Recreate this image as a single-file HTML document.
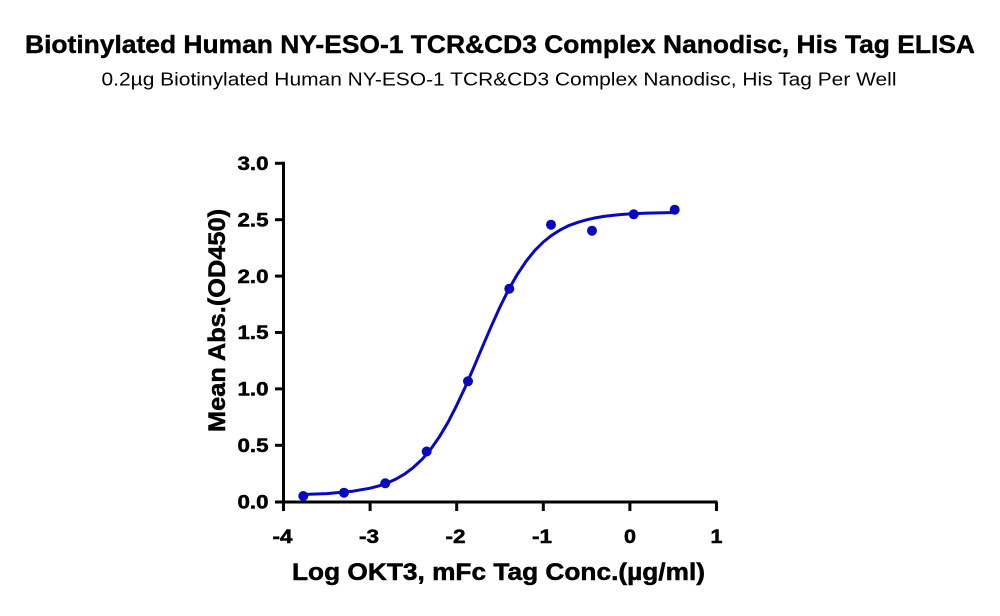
<!DOCTYPE html>
<html><head><meta charset="utf-8"><style>
html,body{margin:0;padding:0;background:#fff;}
svg{display:block;}
text{font-family:"Liberation Sans",sans-serif;fill:#000;}
</style></head><body>
<svg width="1000" height="616" viewBox="0 0 1000 616" xmlns="http://www.w3.org/2000/svg">
<rect width="1000" height="616" fill="#fff"/>
<text x="500" y="53" text-anchor="middle" font-size="25" font-weight="bold" stroke="#000" stroke-width="0.4" textLength="950" lengthAdjust="spacingAndGlyphs">Biotinylated Human NY-ESO-1 TCR&amp;CD3 Complex Nanodisc, His Tag ELISA</text>
<text x="499" y="85.5" text-anchor="middle" font-size="18.5" textLength="795" lengthAdjust="spacingAndGlyphs">0.2µg Biotinylated Human NY-ESO-1 TCR&amp;CD3 Complex Nanodisc, His Tag Per Well</text>

<g stroke="#000" stroke-width="3" fill="none">
<line x1="283.5" y1="161.8" x2="283.5" y2="503.5"/>
<line x1="282" y1="502" x2="717.5" y2="502"/>
<line x1="275" y1="163.3" x2="283.5" y2="163.3"/>
<line x1="275" y1="219.7" x2="283.5" y2="219.7"/>
<line x1="275" y1="276.1" x2="283.5" y2="276.1"/>
<line x1="275" y1="332.5" x2="283.5" y2="332.5"/>
<line x1="275" y1="388.9" x2="283.5" y2="388.9"/>
<line x1="275" y1="445.3" x2="283.5" y2="445.3"/>
<line x1="275" y1="502" x2="283.5" y2="502"/>
<line x1="283.5" y1="502" x2="283.5" y2="511"/>
<line x1="370.1" y1="502" x2="370.1" y2="511"/>
<line x1="456.7" y1="502" x2="456.7" y2="511"/>
<line x1="543.3" y1="502" x2="543.3" y2="511"/>
<line x1="629.9" y1="502" x2="629.9" y2="511"/>
<line x1="716.5" y1="502" x2="716.5" y2="511"/>
</g>

<g font-size="19" font-weight="bold" text-anchor="end" stroke="#000" stroke-width="0.5">
<text x="268.5" y="170" textLength="31" lengthAdjust="spacingAndGlyphs">3.0</text>
<text x="268.5" y="226.4" textLength="31" lengthAdjust="spacingAndGlyphs">2.5</text>
<text x="268.5" y="282.8" textLength="31" lengthAdjust="spacingAndGlyphs">2.0</text>
<text x="268.5" y="339.2" textLength="31" lengthAdjust="spacingAndGlyphs">1.5</text>
<text x="268.5" y="395.6" textLength="31" lengthAdjust="spacingAndGlyphs">1.0</text>
<text x="268.5" y="452" textLength="31" lengthAdjust="spacingAndGlyphs">0.5</text>
<text x="268.5" y="508.5" textLength="31" lengthAdjust="spacingAndGlyphs">0.0</text>
</g>
<g font-size="19" font-weight="bold" text-anchor="middle" stroke="#000" stroke-width="0.5">
<text x="282.5" y="543" textLength="20" lengthAdjust="spacingAndGlyphs">-4</text>
<text x="369" y="543" textLength="20" lengthAdjust="spacingAndGlyphs">-3</text>
<text x="455.5" y="543" textLength="20" lengthAdjust="spacingAndGlyphs">-2</text>
<text x="542" y="543" textLength="20" lengthAdjust="spacingAndGlyphs">-1</text>
<text x="630" y="543" textLength="12" lengthAdjust="spacingAndGlyphs">0</text>
<text x="716.5" y="543" textLength="12" lengthAdjust="spacingAndGlyphs">1</text>
</g>

<text x="498.5" y="580" text-anchor="middle" font-size="24" font-weight="bold" stroke="#000" stroke-width="0.5" textLength="413" lengthAdjust="spacingAndGlyphs">Log OKT3, mFc Tag Conc.(µg/ml)</text>
<text transform="translate(225,320.5) rotate(-90)" x="0" y="0" text-anchor="middle" font-size="24" font-weight="bold" stroke="#000" stroke-width="0.5" textLength="223" lengthAdjust="spacingAndGlyphs">Mean Abs.(OD450)</text>

<polyline fill="none" stroke="#0808c0" stroke-width="3" stroke-linejoin="round" stroke-linecap="round"
points="301.7,494.5 326.8,493.6 352.8,491.2 370.1,488.2 378.8,485.9 387.4,482.9 396.1,479.0 404.8,473.9 413.4,467.4 422.1,459.3 430.8,449.1 439.4,436.8 448.1,422.2 456.7,405.3 465.4,386.7 474.0,366.8 482.7,346.2 491.3,326.2 500.0,306.9 508.6,289.6 517.3,274.4 526.0,261.4 534.6,250.7 543.3,242.0 552.0,235.1 560.6,229.7 569.2,225.4 577.9,222.3 586.6,219.8 595.2,217.9 603.9,216.4 612.5,215.4 621.2,214.5 629.9,213.9 647.2,213.1 664.5,212.7 674.9,212.5"/>

<g fill="#0808c0">
<circle cx="303.3" cy="496" r="5"/>
<circle cx="344" cy="492.7" r="5"/>
<circle cx="385.3" cy="483.3" r="5"/>
<circle cx="426.7" cy="451.5" r="5"/>
<circle cx="468" cy="381.3" r="5"/>
<circle cx="509.3" cy="288.7" r="5"/>
<circle cx="551" cy="224.7" r="5"/>
<circle cx="592" cy="230.7" r="5"/>
<circle cx="633.7" cy="214.3" r="5"/>
<circle cx="674.7" cy="209.7" r="5"/>
</g>
</svg>
</body></html>
